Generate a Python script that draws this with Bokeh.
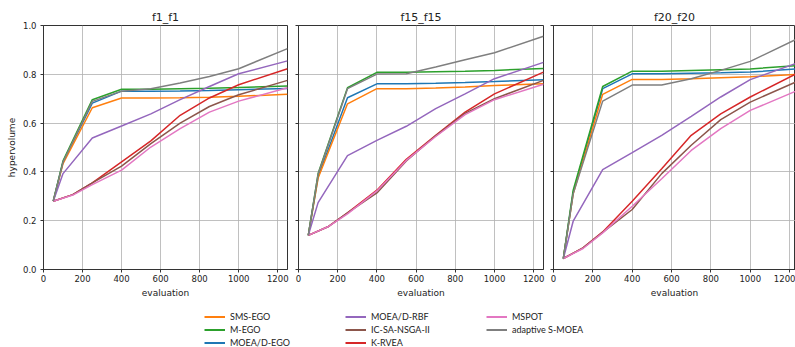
from bokeh.plotting import figure
from bokeh.layouts import row, column
from bokeh.models import (Legend, LegendItem, FixedTicker, PrintfTickFormatter, Range1d,
                          CustomLabelingPolicy)
from bokeh.embed import file_html
from bokeh.resources import INLINE

# ---------------- data ----------------
x_fast = [50, 100, 250, 400, 550, 700, 850, 1000, 1250]
x_slow = [50, 150, 250, 400, 550, 700, 850, 1000, 1250]

methods = ["SMS-EGO", "M-EGO", "MOEA/D-EGO", "MOEA/D-RBF", "IC-SA-NSGA-II",
           "K-RVEA", "MSPOT", "adaptive S-MOEA"]
colors = {"SMS-EGO": "#ff7f0e", "M-EGO": "#2ca02c", "MOEA/D-EGO": "#1f77b4",
          "MOEA/D-RBF": "#9467bd", "IC-SA-NSGA-II": "#8c564b", "K-RVEA": "#d62728",
          "MSPOT": "#e377c2", "adaptive S-MOEA": "#7f7f7f"}
slow_methods = ["IC-SA-NSGA-II", "K-RVEA", "MSPOT"]

f1_sms = [0.28, 0.434, 0.663, 0.703, 0.703, 0.704, 0.706, 0.710, 0.718]
f1_mego = [0.28, 0.445, 0.696, 0.739, 0.739, 0.741, 0.743, 0.746, 0.752]
f1_moead_ego = [0.28, 0.440, 0.682, 0.731, 0.731, 0.732, 0.734, 0.737, 0.742]
f1_moead_rbf = [0.28, 0.393, 0.539, 0.588, 0.638, 0.696, 0.750, 0.802, 0.855]
f1_icsa = [0.28, 0.307, 0.355, 0.424, 0.516, 0.600, 0.668, 0.716, 0.775]
f1_krvea = [0.28, 0.307, 0.355, 0.441, 0.527, 0.632, 0.703, 0.757, 0.823]
f1_mspot = [0.28, 0.305, 0.348, 0.407, 0.502, 0.577, 0.645, 0.690, 0.745]
f1_asmoea = [0.28, 0.440, 0.689, 0.731, 0.741, 0.764, 0.791, 0.823, 0.905]

f15_sms = [0.14, 0.375, 0.679, 0.741, 0.741, 0.744, 0.748, 0.754, 0.761]
f15_mego = [0.14, 0.393, 0.745, 0.808, 0.808, 0.810, 0.812, 0.816, 0.824]
f15_moead_ego = [0.14, 0.380, 0.704, 0.761, 0.761, 0.763, 0.766, 0.770, 0.778]
f15_moead_rbf = [0.14, 0.274, 0.467, 0.529, 0.587, 0.659, 0.720, 0.782, 0.849]
f15_icsa = [0.14, 0.175, 0.232, 0.314, 0.445, 0.548, 0.640, 0.700, 0.775]
f15_krvea = [0.14, 0.175, 0.232, 0.325, 0.452, 0.550, 0.645, 0.720, 0.809]
f15_mspot = [0.14, 0.175, 0.228, 0.322, 0.447, 0.545, 0.635, 0.696, 0.759]
f15_asmoea = [0.14, 0.390, 0.741, 0.801, 0.802, 0.830, 0.860, 0.888, 0.956]

f20_sms = [0.045, 0.310, 0.718, 0.779, 0.779, 0.782, 0.786, 0.790, 0.800]
f20_mego = [0.045, 0.325, 0.750, 0.813, 0.813, 0.816, 0.819, 0.822, 0.836]
f20_moead_ego = [0.045, 0.315, 0.741, 0.802, 0.802, 0.804, 0.806, 0.809, 0.823]
f20_moead_rbf = [0.045, 0.198, 0.409, 0.479, 0.550, 0.628, 0.707, 0.778, 0.850]
f20_icsa = [0.045, 0.089, 0.152, 0.246, 0.393, 0.509, 0.614, 0.686, 0.775]
f20_krvea = [0.045, 0.089, 0.154, 0.280, 0.413, 0.550, 0.638, 0.707, 0.809]
f20_mspot = [0.045, 0.086, 0.150, 0.259, 0.372, 0.488, 0.577, 0.652, 0.737]
f20_asmoea = [0.045, 0.310, 0.690, 0.756, 0.756, 0.782, 0.816, 0.853, 0.950]

panels = [
    ("f1_f1", {"SMS-EGO": f1_sms, "M-EGO": f1_mego, "MOEA/D-EGO": f1_moead_ego,
               "MOEA/D-RBF": f1_moead_rbf, "IC-SA-NSGA-II": f1_icsa, "K-RVEA": f1_krvea,
               "MSPOT": f1_mspot, "adaptive S-MOEA": f1_asmoea}),
    ("f15_f15", {"SMS-EGO": f15_sms, "M-EGO": f15_mego, "MOEA/D-EGO": f15_moead_ego,
                 "MOEA/D-RBF": f15_moead_rbf, "IC-SA-NSGA-II": f15_icsa, "K-RVEA": f15_krvea,
                 "MSPOT": f15_mspot, "adaptive S-MOEA": f15_asmoea}),
    ("f20_f20", {"SMS-EGO": f20_sms, "M-EGO": f20_mego, "MOEA/D-EGO": f20_moead_ego,
                 "MOEA/D-RBF": f20_moead_rbf, "IC-SA-NSGA-II": f20_icsa, "K-RVEA": f20_krvea,
                 "MSPOT": f20_mspot, "adaptive S-MOEA": f20_asmoea}),
]

x_ticks = [0, 200, 400, 600, 800, 1000, 1200]
y_ticks = [0.0, 0.2, 0.4, 0.6, 0.8, 1.0]
draw_order = ["MOEA/D-EGO", "SMS-EGO", "M-EGO", "K-RVEA", "MOEA/D-RBF",
              "IC-SA-NSGA-II", "MSPOT", "adaptive S-MOEA"]

FONT = "DejaVu Sans"
# (width, min_border_left, min_border_right, x_end)
geom = [(292, 43, 5, 1250), (256, 6, 5, 1250), (247, 5, 0, 1230)]

figs = []
for i, (title, data) in enumerate(panels):
    w, bl, br, xend = geom[i]
    p = figure(width=w, height=300, output_backend="svg", toolbar_location=None,
               x_range=Range1d(0, xend), y_range=Range1d(0, 1),
               min_border_left=bl, min_border_right=br, min_border_top=25,
               min_border_bottom=30)
    p.title.text = title
    p.title.align = "center"
    p.title.text_font = FONT
    p.title.text_font_size = "11px"
    p.title.text_font_style = "normal"
    p.title.text_color = "#222222"
    p.title.standoff = 3
    p.outline_line_color = "#333333"
    p.outline_line_width = 1
    p.outline_line_alpha = 1
    for m in draw_order:
        xs = x_slow if m in slow_methods else x_fast
        p.line(xs, data[m], line_color=colors[m], line_width=1.5)
    p.xaxis.ticker = FixedTicker(ticks=x_ticks)
    p.yaxis.ticker = FixedTicker(ticks=y_ticks)
    p.yaxis.formatter = PrintfTickFormatter(format="%.1f")
    for ax in (p.xaxis[0], p.yaxis[0]):
        ax.major_tick_out = 3
        ax.major_tick_in = 0
        ax.minor_tick_line_color = None
        ax.axis_line_color = "#333333"
        ax.major_tick_line_color = "#333333"
        ax.major_label_text_font = FONT
        ax.major_label_text_font_size = "8.5px"
        ax.major_label_text_color = "#222222"
        ax.major_label_standoff = 2
        ax.axis_label_text_font = FONT
        ax.axis_label_text_font_size = "9px"
        ax.axis_label_text_font_style = "normal"
        ax.axis_label_text_color = "#222222"
        ax.axis_label_standoff = 3
    p.yaxis.major_label_standoff = 4
    p.xaxis.axis_label = "evaluation"
    if i == 0:
        p.yaxis.axis_label = "hypervolume"
    else:
        # shared y axis: ticks only, no labels
        p.yaxis.major_label_text_font_size = "0px"
        p.yaxis.major_label_standoff = 0
        p.yaxis.major_label_policy = CustomLabelingPolicy(code="return new Set()")
    p.grid.grid_line_color = "#b0b0b0"
    p.grid.grid_line_alpha = 0.8
    p.grid.grid_line_width = 1
    figs.append(p)

# ---------------- legend ----------------
lg = figure(width=795, height=47, output_backend="svg", toolbar_location=None,
            x_range=(0, 1), y_range=(0, 1), min_border=0)
lg.axis.visible = False
lg.grid.visible = False
lg.outline_line_color = None
rends = {m: lg.line([-5, -4], [-5, -4], line_color=colors[m], line_width=2) for m in methods}
cols = [(["SMS-EGO", "M-EGO", "MOEA/D-EGO"], 204, -2),
        (["MOEA/D-RBF", "IC-SA-NSGA-II", "K-RVEA"], 345, -2),
        (["MSPOT", "adaptive S-MOEA"], 486, 11)]
for names, lx, ly in cols:
    leg = Legend(items=[LegendItem(label=n, renderers=[rends[n]]) for n in names],
                 location=(lx, ly), orientation="vertical")
    leg.padding = 0
    leg.spacing = 0
    leg.margin = 0
    leg.label_height = 13
    leg.glyph_height = 13
    leg.glyph_width = 21
    leg.label_standoff = 5
    leg.label_text_font = "Lato"
    leg.label_text_font_size = "9px"
    leg.label_text_color = "#222222"
    leg.background_fill_alpha = 0
    leg.border_line_alpha = 0
    lg.add_layout(leg)

layout = column(row(*figs), lg)
open("out.html", "w").write(file_html(layout, INLINE))
